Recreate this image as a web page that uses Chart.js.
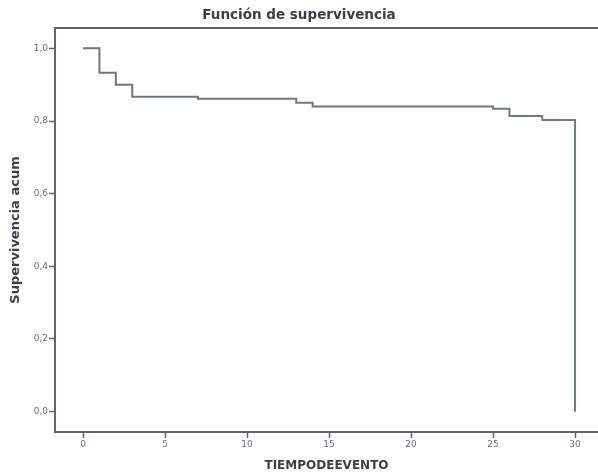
<!DOCTYPE html>
<html>
<head>
<meta charset="utf-8">
<title>Función de supervivencia</title>
<script src="https://cdn.jsdelivr.net/npm/chart.js@4.4.1/dist/chart.umd.min.js"></script>
<style>
  body { margin: 0; background: #fff; }
  #wrap { width: 598px; height: 475px; }
</style>
</head>
<body>
<div id="wrap"><canvas id="mycanvas" width="598" height="475"></canvas></div>
<script>
// tiempo del evento y supervivencia acumulada (Kaplan-Meier)
var tiempo = [0, 1, 2, 3, 7, 13, 14, 25, 26, 28, 30];
var supervivencia = [1.0, 0.933, 0.9, 0.867, 0.861, 0.85, 0.84, 0.834, 0.814, 0.803, 0.0];
var xTicks = [0, 5, 10, 15, 20, 25, 30];
var yTicks = [0.0, 0.2, 0.4, 0.6, 0.8, 1.0];

var axisColor = "#5f6671";
var textColor = "#6b7079";

var puntos = [];
for (var i in tiempo) {
  puntos.push({ x: tiempo[i], y: supervivencia[i] });
}

var chartdata = {
  datasets: [
    {
      label: "Supervivencia acum",
      data: puntos,
      stepped: "before",
      fill: false,
      borderColor: "#6f7782",
      borderWidth: 2,
      pointRadius: 0,
      pointHoverRadius: 0
    }
  ]
};

var ctx = document.getElementById("mycanvas");

var grafico = new Chart(ctx, {
  type: "line",
  data: chartdata,
  options: {
    responsive: false,
    animation: false,
    layout: { padding: { top: 0, right: 0, bottom: 0, left: 0 } },
    plugins: {
      legend: { display: false },
      tooltip: { enabled: false },
      title: {
        display: true,
        text: "Función de supervivencia",
        color: "#3d3f44",
        font: { family: "DejaVu Sans", size: 13.5, weight: "bold" },
        padding: { top: 7, bottom: 4.8 }
      }
    },
    scales: {
      x: {
        type: "linear",
        position: "bottom",
        min: -1.71,
        max: 31.4,
        afterBuildTicks: function(scale) {
          scale.ticks = xTicks.map(function(v) { return { value: v }; });
        },
        afterFit: function(scale) { scale.height = 43; },
        ticks: {
          autoSkip: false,
          maxRotation: 0,
          padding: 1,
          color: textColor,
          font: { family: "DejaVu Sans", size: 9 }
        },
        grid: { drawOnChartArea: false, drawTicks: true, tickLength: 6, tickColor: axisColor, tickWidth: 1.5 },
        border: { display: true, color: axisColor, width: 2 },
        title: {
          display: true,
          text: "TIEMPODEEVENTO",
          color: "#3d3f44",
          font: { family: "DejaVu Sans", size: 12, weight: "bold" },
          padding: { top: 0, bottom: 2 }
        }
      },
      xTop: {
        type: "linear",
        position: "top",
        min: -1.71,
        max: 31.4,
        afterFit: function(scale) { scale.height = 0; },
        ticks: { display: false },
        grid: { display: false },
        border: { display: true, color: axisColor, width: 2 }
      },
      y: {
        type: "linear",
        min: -0.056,
        max: 1.056,
        afterBuildTicks: function(scale) {
          scale.ticks = yTicks.map(function(v) { return { value: v }; });
        },
        afterFit: function(scale) { scale.width = 55; },
        ticks: {
          padding: 1,
          color: textColor,
          font: { family: "DejaVu Sans", size: 9 },
          callback: function(v) { return v.toFixed(1).replace(".", ","); }
        },
        grid: { drawOnChartArea: false, drawTicks: true, tickLength: 6, tickColor: axisColor, tickWidth: 1.5 },
        border: { display: true, color: axisColor, width: 2 },
        title: {
          display: true,
          text: "Supervivencia acum",
          color: "#3d3f44",
          font: { family: "DejaVu Sans", size: 13, weight: "bold" },
          padding: { top: 8, bottom: 0 }
        }
      }
    }
  }
});
</script>
</body>
</html>
